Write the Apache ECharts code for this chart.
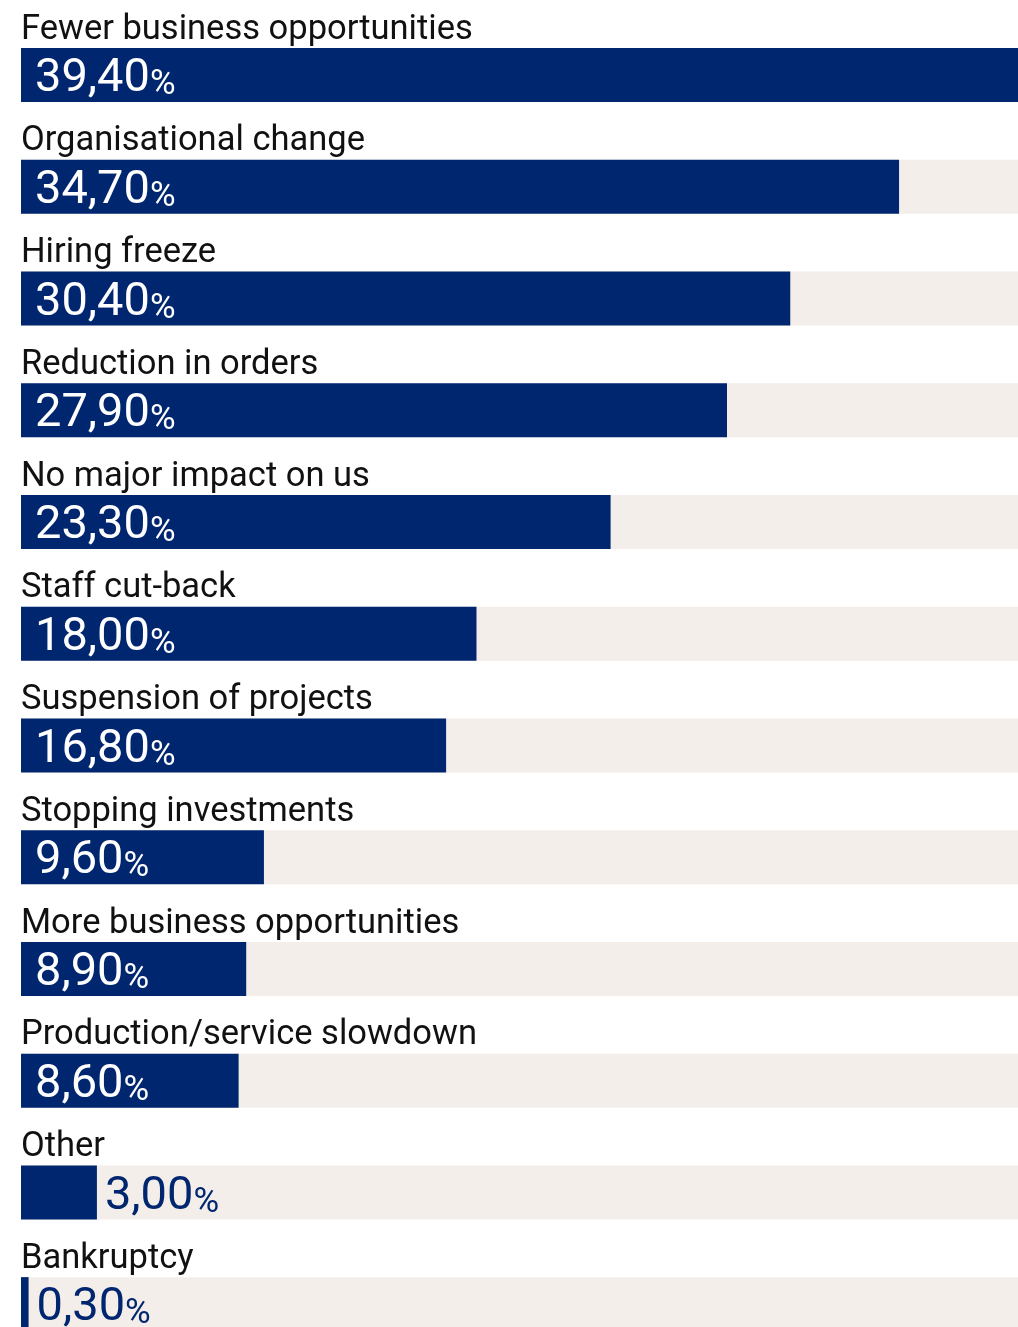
<!DOCTYPE html>
<html>
<head>
<meta charset="utf-8">
<script src="https://cdn.jsdelivr.net/npm/echarts@6/dist/echarts.min.js"></script>
<style>
  html, body { margin: 0; padding: 0; background: #ffffff; overflow: hidden; }
  #chart { width: 1018px; height: 1370px; }
</style>
</head>
<body>
<div id="chart"></div>
<script>
// Impact categories, top to bottom
const categories = [
  'Fewer business opportunities',
  'Organisational change',
  'Hiring freeze',
  'Reduction in orders',
  'No major impact on us',
  'Staff cut-back',
  'Suspension of projects',
  'Stopping investments',
  'More business opportunities',
  'Production/service slowdown',
  'Other',
  'Bankruptcy'
];

// Share of respondents (%)
const values = [39.4, 34.7, 30.4, 27.9, 23.3, 18.0, 16.8, 9.6, 8.9, 8.6, 3.0, 0.3];

// Bars shorter than this get their label outside, to the right
const insideLabelMin = 5;

const NAVY = '#00266f';
const TRACK = '#f3eeea';
const FONT = 'Roboto, "Noto Sans", sans-serif';

function fmt(v) {
  return v.toFixed(2).replace('.', ',');
}

function richFor(color) {
  return {
    v: { fontFamily: FONT, fontSize: 47, color: color, lineHeight: 50, verticalAlign: 'bottom' },
    p: { fontFamily: FONT, fontSize: 35, color: color, lineHeight: 50, verticalAlign: 'bottom' }
  };
}

const chart = echarts.init(document.getElementById('chart'), null, { renderer: 'canvas' });

const barData = values.map(function (v) {
  const inside = v >= insideLabelMin;
  return {
    value: v,
    label: inside
      ? { position: 'insideLeft', distance: 14, offset: [0, 3], rich: richFor('#ffffff') }
      : { position: 'right', distance: 8, offset: [0, 3], rich: richFor(NAVY) }
  };
});

chart.setOption({
  animation: false,
  grid: { left: 21, right: 0, top: 19, height: 1341, containLabel: false },
  xAxis: {
    type: 'value',
    min: 0,
    max: 39.4,
    show: false
  },
  yAxis: {
    type: 'category',
    inverse: true,
    data: categories,
    axisLine: { show: false },
    axisTick: { show: false },
    axisLabel: {
      inside: true,
      margin: 0,
      align: 'left',
      verticalAlign: 'bottom',
      lineHeight: 34,
      padding: [0, 0, 28, 0],
      fontFamily: FONT,
      fontSize: 34.5,
      color: '#111111'
    },
    z: 10
  },
  series: [{
    type: 'bar',
    data: barData,
    barWidth: 54,
    showBackground: true,
    backgroundStyle: { color: TRACK },
    itemStyle: { color: NAVY },
    label: {
      show: true,
      formatter: function (p) { return '{v|' + fmt(p.value) + '}{p|%}'; }
    }
  }]
});
</script>
</body>
</html>
